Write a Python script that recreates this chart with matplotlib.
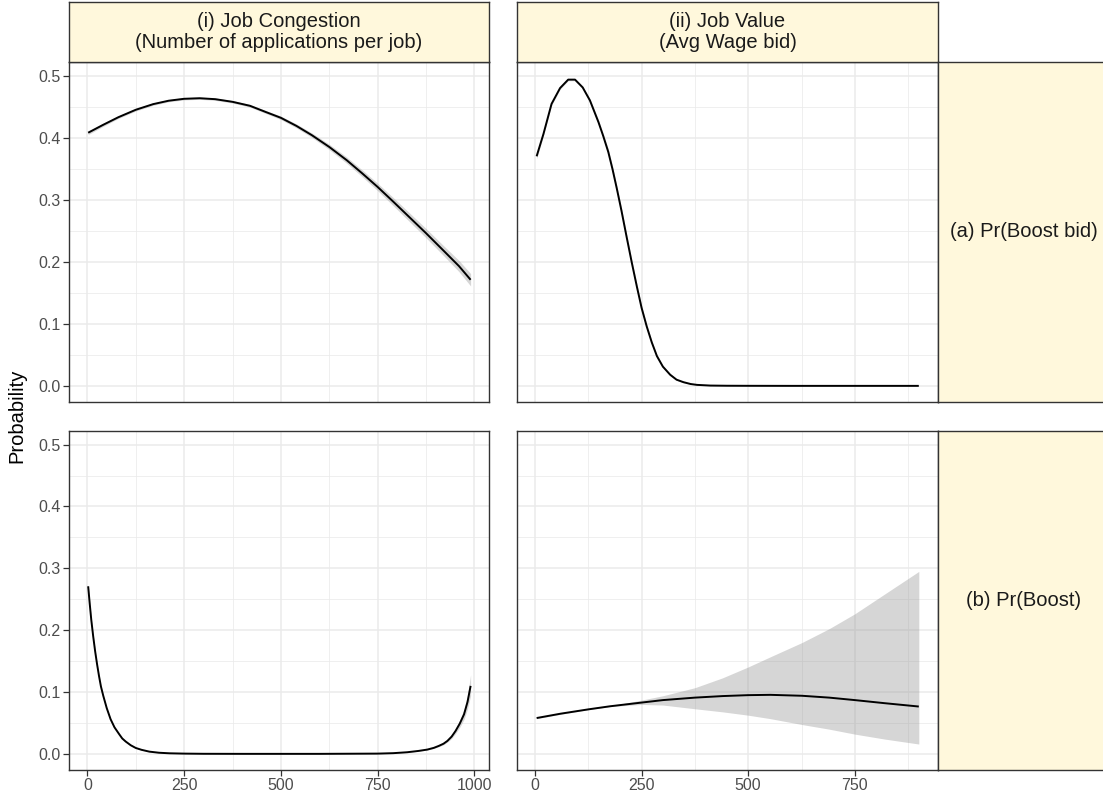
import matplotlib
matplotlib.use("Agg")
import matplotlib.pyplot as plt
from matplotlib.ticker import MultipleLocator, FixedLocator, FormatStrFormatter

plt.rcParams['font.family'] = ['Liberation Sans', 'DejaVu Sans']

# ---------------- data ----------------
col_labels = ["(i) Job Congestion\n(Number of applications per job)",
              "(ii) Job Value\n(Avg Wage bid)"]
row_labels = ["(a) Pr(Boost bid)", "(b) Pr(Boost)"]
y_label = "Probability"

# (a)(i) Pr(Boost bid) vs congestion
x_a1 = [2, 40, 80, 125, 170, 210, 250, 290, 330, 375, 420, 460, 500, 540, 580,
        625, 670, 710, 750, 790, 830, 875, 920, 960, 990]
y_a1 = [0.408, 0.4205, 0.433, 0.445, 0.4541, 0.4596, 0.4627, 0.4636, 0.4621, 0.4578,
        0.4514, 0.4416, 0.432, 0.419, 0.404, 0.385, 0.3637, 0.3425, 0.3205, 0.297,
        0.273, 0.246, 0.218, 0.193, 0.171]
lo_a1 = [0.405, 0.418, 0.431, 0.443, 0.4522, 0.4578, 0.4609, 0.4618, 0.4602, 0.4558,
         0.4492, 0.4392, 0.4292, 0.4158, 0.4004, 0.3806, 0.3587, 0.3370, 0.3145, 0.2905,
         0.2660, 0.2385, 0.2100, 0.1840, 0.1610]
hi_a1 = [0.411, 0.423, 0.435, 0.447, 0.4560, 0.4614, 0.4645, 0.4654, 0.4640, 0.4598,
         0.4536, 0.4440, 0.4348, 0.4222, 0.4076, 0.3894, 0.3687, 0.3480, 0.3265, 0.3035,
         0.2800, 0.2535, 0.2260, 0.2020, 0.1810]

# (a)(ii) Pr(Boost bid) vs wage bid
x_a2 = [4, 20, 39, 59, 78, 94, 112, 129, 149, 160, 172, 182, 192, 203, 215, 227,
        239, 250, 262, 274, 286, 300, 317, 332, 348, 365, 380, 411, 450, 500, 600,
        700, 800, 900]
y_a2 = [0.370, 0.406, 0.4545, 0.480, 0.4936, 0.4936, 0.481, 0.460, 0.425, 0.403,
        0.377, 0.349, 0.318, 0.282, 0.240, 0.199, 0.160, 0.126, 0.096, 0.070,
        0.048, 0.031, 0.018, 0.010, 0.006, 0.003, 0.0016, 0.0005, 0.0002, 0.0001,
        0.0, 0.0, 0.0, 0.0]
lo_a2 = [0.366, 0.403, 0.452, 0.478, 0.4918, 0.4918, 0.479, 0.457, 0.421, 0.399,
         0.372, 0.344, 0.313, 0.277, 0.235, 0.194, 0.155, 0.122, 0.092, 0.067,
         0.045, 0.029, 0.016, 0.009, 0.005, 0.0025, 0.0012, 0.0003, 0.0001, 0.0,
         0.0, 0.0, 0.0, 0.0]
hi_a2 = [0.374, 0.409, 0.457, 0.482, 0.4954, 0.4954, 0.483, 0.463, 0.429, 0.407,
         0.382, 0.354, 0.323, 0.287, 0.245, 0.204, 0.165, 0.130, 0.100, 0.073,
         0.051, 0.033, 0.020, 0.011, 0.007, 0.0035, 0.0020, 0.0007, 0.0003, 0.0002,
         0.0, 0.0, 0.0, 0.0]

# (b)(i) Pr(Boost) vs congestion
x_b1 = [2, 6, 10, 15, 20, 25, 30, 35, 41, 50, 60, 70, 82, 90, 99, 112, 125, 140,
        160, 185, 212, 250, 300, 400, 600, 750, 790, 826, 855, 878, 895, 908, 920,
        930, 941, 951, 962, 973, 982, 990]
y_b1 = [0.271, 0.243, 0.217, 0.190, 0.166, 0.145, 0.126, 0.109, 0.094, 0.074,
        0.056, 0.043, 0.032, 0.025, 0.020, 0.014, 0.0096, 0.0066, 0.0037, 0.0019,
        0.0010, 0.0005, 0.0002, 0.0001, 0.0001, 0.0005, 0.0012, 0.0027, 0.0048,
        0.0070, 0.0098, 0.0130, 0.0165, 0.021, 0.028, 0.037, 0.049, 0.064, 0.084,
        0.110]
lo_b1 = [0.267, 0.240, 0.215, 0.188, 0.164, 0.143, 0.124, 0.108, 0.093, 0.073,
         0.055, 0.042, 0.031, 0.024, 0.019, 0.0134, 0.0092, 0.0063, 0.0035, 0.0018,
         0.0009, 0.0004, 0.0002, 0.0001, 0.0001, 0.0004, 0.0010, 0.0024, 0.0043,
         0.0063, 0.0088, 0.0117, 0.0148, 0.019, 0.025, 0.033, 0.043, 0.056, 0.073,
         0.094]
hi_b1 = [0.275, 0.246, 0.219, 0.192, 0.168, 0.147, 0.128, 0.110, 0.095, 0.075,
         0.057, 0.044, 0.033, 0.026, 0.021, 0.0146, 0.0100, 0.0069, 0.0039, 0.0020,
         0.0011, 0.0006, 0.0002, 0.0001, 0.0001, 0.0006, 0.0014, 0.0030, 0.0053,
         0.0077, 0.0108, 0.0143, 0.0182, 0.023, 0.031, 0.041, 0.055, 0.072, 0.095,
         0.128]

# (b)(ii) Pr(Boost) vs wage bid
x_b2 = [4, 60, 125, 176, 250, 300, 375, 440, 500, 552, 626, 690, 750, 820, 900]
y_b2 = [0.058, 0.065, 0.072, 0.077, 0.083, 0.087, 0.091, 0.0935, 0.095, 0.0955,
        0.094, 0.091, 0.087, 0.082, 0.0766]
lo_b2 = [0.057, 0.064, 0.0715, 0.0765, 0.080, 0.079, 0.073, 0.068, 0.0626, 0.057,
         0.0475, 0.040, 0.032, 0.024, 0.016]
hi_b2 = [0.059, 0.066, 0.0725, 0.0775, 0.087, 0.094, 0.107, 0.123, 0.1406, 0.157,
         0.180, 0.2025, 0.2265, 0.2585, 0.295]

panels = [[(x_a1, y_a1, lo_a1, hi_a1), (x_a2, y_a2, lo_a2, hi_a2)],
          [(x_b1, y_b1, lo_b1, hi_b1), (x_b2, y_b2, lo_b2, hi_b2)]]

xticks_cols = [[0, 250, 500, 750, 1000], [0, 250, 500, 750]]
xlims = [(-47.5, 1037.5), (-42, 945)]
yticks = [0.0, 0.1, 0.2, 0.3, 0.4, 0.5]
ylim = (-0.026, 0.522)

# ---------------- layout ----------------
W, H = 1103, 800
fig = plt.figure(figsize=(W / 100, H / 100), dpi=100)

def fx(px):
    return px / W

def fy(py):
    return 1 - py / H

col_px = [(69, 489), (517, 938)]
row_px = [(62, 402), (431, 770)]
strip_top_px = (2, 62)
strip_right_px = (938, 1109)

BORDER = '#333333'
STRIP = '#FFF8DC'
GRID = '#EBEBEB'

for r in range(2):
    for c in range(2):
        x0, x1 = col_px[c]
        t, b = row_px[r]
        ax = fig.add_axes([fx(x0), fy(b), fx(x1 - x0), (b - t) / H])
        xs, ys, lo, hi = panels[r][c]
        ax.fill_between(xs, lo, hi, color='#999999', alpha=0.4, lw=0, zorder=2)
        ax.plot(xs, ys, color='black', lw=1.4, zorder=3,
                solid_joinstyle='round', solid_capstyle='butt')
        ax.set_xlim(*xlims[c])
        ax.set_ylim(*ylim)
        ax.xaxis.set_major_locator(FixedLocator(xticks_cols[c]))
        ax.xaxis.set_minor_locator(MultipleLocator(125))
        ax.yaxis.set_major_locator(FixedLocator(yticks))
        ax.yaxis.set_minor_locator(MultipleLocator(0.05))
        ax.yaxis.set_major_formatter(FormatStrFormatter('%.1f'))
        ax.grid(which='major', color=GRID, lw=1.1, zorder=0)
        ax.grid(which='minor', color=GRID, lw=0.55, zorder=0)
        ax.set_axisbelow(True)
        for s in ax.spines.values():
            s.set_color(BORDER)
            s.set_linewidth(1.0)
        ax.tick_params(which='major', length=4, width=0.9, color=BORDER,
                       labelcolor='#4D4D4D', labelsize=11.5, pad=2)
        ax.tick_params(which='minor', length=0)
        if c != 0:
            ax.tick_params(axis='y', which='both', left=False, labelleft=False)
        if r != 1:
            ax.tick_params(axis='x', which='both', bottom=False, labelbottom=False)

# top strips
for c in range(2):
    x0, x1 = col_px[c]
    t, b = strip_top_px
    sax = fig.add_axes([fx(x0), fy(b), fx(x1 - x0), (b - t) / H])
    sax.set_facecolor(STRIP)
    sax.set_xticks([]); sax.set_yticks([])
    for s in sax.spines.values():
        s.set_color(BORDER); s.set_linewidth(1.0)
    sax.text(0.5, 0.5, col_labels[c], ha='center', va='center', fontsize=14.5,
             color='#1A1A1A', linespacing=1.15, transform=sax.transAxes)

# right strips
for r in range(2):
    x0, x1 = strip_right_px
    t, b = row_px[r]
    sax = fig.add_axes([fx(x0), fy(b), fx(x1 - x0), (b - t) / H])
    sax.set_facecolor(STRIP)
    sax.set_xticks([]); sax.set_yticks([])
    for s in sax.spines.values():
        s.set_color(BORDER); s.set_linewidth(1.0)
    sax.text(0.5, 0.5, row_labels[r], ha='center', va='center', fontsize=14.5,
             color='#1A1A1A', transform=sax.transAxes)

fig.text(fx(17), fy((62 + 770) / 2), y_label, rotation=90, ha='center', va='center',
         fontsize=14.5, color='black')

fig.savefig('out.png', dpi=100)
